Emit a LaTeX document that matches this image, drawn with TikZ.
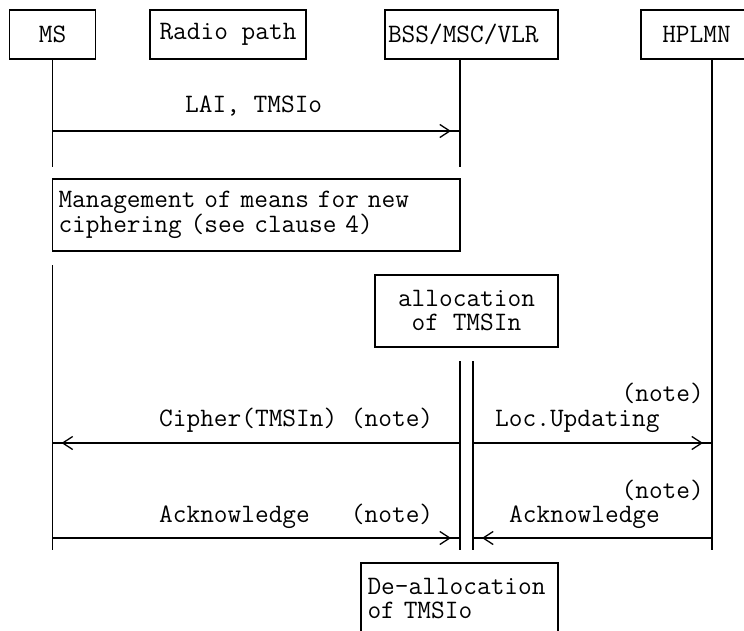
\documentclass[tikz,border=0pt]{standalone}
\usepackage{fontspec}
\usepackage{tikz}
\usetikzlibrary{arrows.meta, decorations.markings}
\setmonofont{Latin Modern Mono}[WordSpace={1,0,0}]
\tikzstyle{box} = [rectangle, draw=black, line width=1.6pt, minimum height=49pt, inner sep=0pt, outer sep=0pt, font=\ttfamily\fontsize{26.6}{24}\selectfont]
\tikzstyle{msgtext} = [inner sep=0pt, font=\ttfamily\fontsize{26.6}{24}\selectfont]
\tikzstyle{life} = [line width=1.6pt]
\tikzstyle{msg} = [line width=1.6pt, postaction={decorate}, decoration={markings, mark=at position -9pt with {\arrow{Straight Barb[length=10pt, width=13pt, line width=1.3pt]}}}]

\begin{document}
\begin{tikzpicture}[x=1pt, y=-1pt]
    \clip (0,0) rectangle (744,631);

    % entities
    \node (ms) [box, minimum width=86pt] at (52.5, 34.5) {MS};
    \node (radio) [box, minimum width=156pt] at (228, 34.5) {Radio path};
    \node (bss) [box, text width=167pt, inner xsep=3pt, align=left] at (471.5, 34.5) {BSS/MSC/VLR};
    \node (hplmn) [box, minimum width=111pt] at (696.5, 34.5) {HPLMN};

    % lifelines
    \coordinate (ms a) at (52.5, 167);
    \coordinate (ms b) at (52.5, 265);
    \coordinate (ms c) at (52.5, 550);
    \coordinate (bss a) at (460, 59);
    \coordinate (bss b) at (460, 167);
    \coordinate (hplmn a) at (712, 59);
    \coordinate (hplmn b) at (712, 550);
    \coordinate (vlr l1) at (460, 361);
    \coordinate (vlr l2) at (460, 550);
    \coordinate (vlr r1) at (473, 361);
    \coordinate (vlr r2) at (473, 550);

    \draw [life] (ms) -- (ms a);
    \draw [life] (ms b) -- (ms c);
    \draw [life] (bss a) -- (bss b);
    \draw [life] (hplmn a) -- (hplmn b);
    \draw [life] (vlr l1) -- (vlr l2);
    \draw [life] (vlr r1) -- (vlr r2);

    % procedures
    \node (mgmt) [box, anchor=north west, text width=395.5pt, inner xsep=6pt, minimum height=72pt, align=left] at (52.5, 179) {Management of means for new\\ciphering (see clause 4)};
    \node (alloc) [box, minimum width=183pt, minimum height=72pt, align=center] at (466.5, 311) {allocation\\of TMSIn};
    \node (dealloc) [box, anchor=north west, text width=184pt, inner xsep=6.5pt, minimum height=71pt, align=left] at (361, 563) {De-allocation\\of TMSIo};

    % messages
    \coordinate (lai s) at (52.5, 131);
    \coordinate (lai e) at (460, 131);
    \coordinate (ciph s) at (460, 443);
    \coordinate (ciph e) at (52.5, 443);
    \coordinate (loc s) at (473, 443);
    \coordinate (loc e) at (712, 443);
    \coordinate (ack1 s) at (52.5, 538);
    \coordinate (ack1 e) at (460, 538);
    \coordinate (ack2 s) at (712, 538);
    \coordinate (ack2 e) at (473, 538);

    \draw [msg] (lai s) -- (lai e);
    \draw [msg] (ciph s) -- (ciph e);
    \draw [msg] (loc s) -- (loc e);
    \draw [msg] (ack1 s) -- (ack1 e);
    \draw [msg] (ack2 s) -- (ack2 e);

    \node (lai) [msgtext, anchor=base west] at (185, 113) {LAI, TMSIo};
    \node (cipher) [msgtext, anchor=base west] at (159, 426) {Cipher(TMSIn) (note)};
    \node (ack1) [msgtext, anchor=base west] at (159, 522) {Acknowledge~~~(note)};
    \node (note1) [msgtext, anchor=base east] at (704, 401) {(note)};
    \node (locupd) [msgtext, anchor=base west] at (495, 426) {Loc.Updating};
    \node (note2) [msgtext, anchor=base east] at (704, 498) {(note)};
    \node (ack2) [msgtext, anchor=base west] at (509, 522) {Acknowledge};

\end{tikzpicture}
\end{document}
